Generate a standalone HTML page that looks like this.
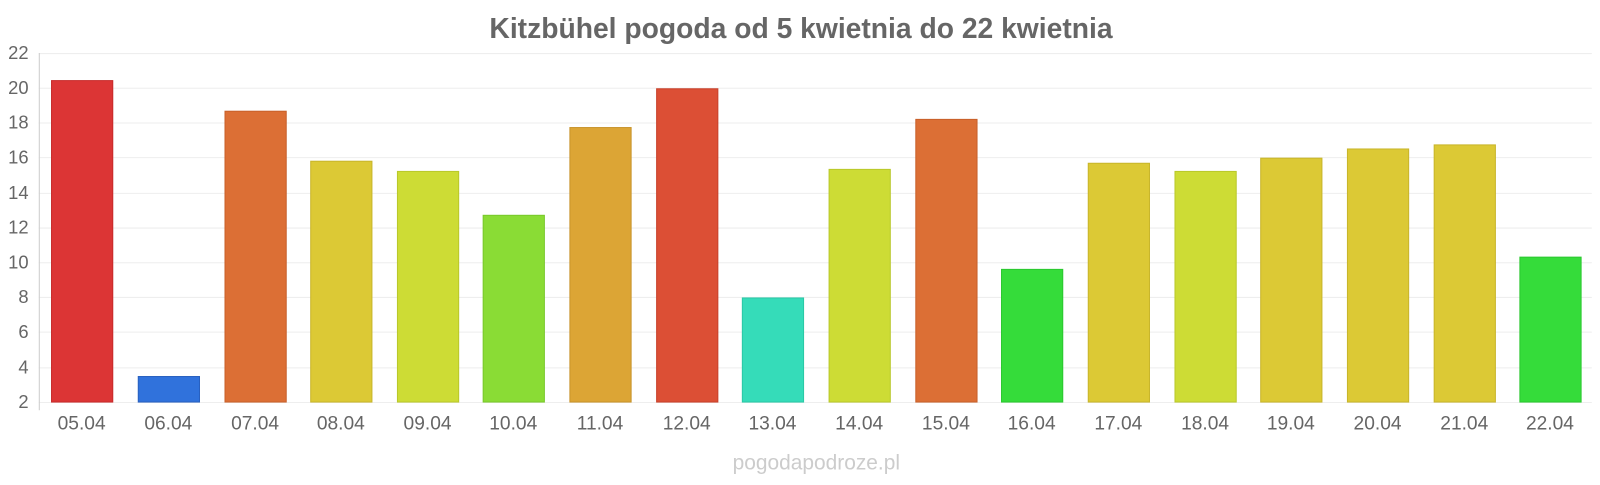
<!DOCTYPE html>
<html><head><meta charset="utf-8"><style>
body{margin:0;background:#fff;}
svg text{font-family:"Liberation Sans",sans-serif;}
</style></head><body>
<svg width="1600" height="480" xmlns="http://www.w3.org/2000/svg">
<g transform="scale(1.0204)">
<text x="785" y="37" text-anchor="middle" font-size="27.7" font-weight="bold" fill="#666">Kitzbühel pogoda od 5 kwietnia do 22 kwietnia</text>
<g stroke="#eee" stroke-width="1">
<line x1="38" x2="1560" y1="52.5" y2="52.5"/><line x1="38" x2="1560" y1="86.5" y2="86.5"/><line x1="38" x2="1560" y1="120.5" y2="120.5"/><line x1="38" x2="1560" y1="154.5" y2="154.5"/><line x1="38" x2="1560" y1="189.5" y2="189.5"/><line x1="38" x2="1560" y1="223.5" y2="223.5"/><line x1="38" x2="1560" y1="257.5" y2="257.5"/><line x1="38" x2="1560" y1="291.5" y2="291.5"/><line x1="38" x2="1560" y1="325.5" y2="325.5"/><line x1="38" x2="1560" y1="360.5" y2="360.5"/><line x1="38" x2="1560" y1="394.5" y2="394.5"/>
</g>
<line x1="38.5" x2="38.5" y1="52" y2="402" stroke="#ccc"/>
<g font-size="18" fill="#666" text-anchor="end">
<text x="28" y="58">22</text><text x="28" y="92">20</text><text x="28" y="126">18</text><text x="28" y="160">16</text><text x="28" y="195">14</text><text x="28" y="229">12</text><text x="28" y="263">10</text><text x="28" y="297">8</text><text x="28" y="331">6</text><text x="28" y="366">4</text><text x="28" y="400">2</text>
</g>
<g stroke-width="1">
<rect x="50.5" y="79" width="60" height="315" fill="#dc3535" stroke="#c82a2a"/>
<rect x="135.5" y="369" width="60" height="25" fill="#3072dc" stroke="#2860c0"/>
<rect x="220.5" y="109" width="60" height="285" fill="#dc6f35" stroke="#c8602a"/>
<rect x="304.5" y="158" width="60" height="236" fill="#dcc935" stroke="#c8b52a"/>
<rect x="389.5" y="168" width="60" height="226" fill="#cddc35" stroke="#b9c82a"/>
<rect x="473.5" y="211" width="60" height="183" fill="#8adc35" stroke="#78c82a"/>
<rect x="558.5" y="125" width="60" height="269" fill="#dca535" stroke="#c8932a"/>
<rect x="643.5" y="87" width="60" height="307" fill="#dc4f35" stroke="#c8402a"/>
<rect x="727.5" y="292" width="60" height="102" fill="#35dcb9" stroke="#2ac8a6"/>
<rect x="812.5" y="166" width="60" height="228" fill="#cddc35" stroke="#b9c82a"/>
<rect x="897.5" y="117" width="60" height="277" fill="#dc6f35" stroke="#c8602a"/>
<rect x="981.5" y="264" width="60" height="130" fill="#35dc3a" stroke="#2ac82f"/>
<rect x="1066.5" y="160" width="60" height="234" fill="#dcc935" stroke="#c8b52a"/>
<rect x="1151.5" y="168" width="60" height="226" fill="#cddc35" stroke="#b9c82a"/>
<rect x="1235.5" y="155" width="60" height="239" fill="#dcc935" stroke="#c8b52a"/>
<rect x="1320.5" y="146" width="60" height="248" fill="#dcc935" stroke="#c8b52a"/>
<rect x="1405.5" y="142" width="60" height="252" fill="#dcc935" stroke="#c8b52a"/>
<rect x="1489.5" y="252" width="60" height="142" fill="#35dc3a" stroke="#2ac82f"/>
</g>
<g font-size="18.8" fill="#666" text-anchor="middle">
<text x="80" y="421">05.04</text><text x="165" y="421">06.04</text><text x="250" y="421">07.04</text><text x="334" y="421">08.04</text><text x="419" y="421">09.04</text><text x="503" y="421">10.04</text><text x="588" y="421">11.04</text><text x="673" y="421">12.04</text><text x="757" y="421">13.04</text><text x="842" y="421">14.04</text><text x="927" y="421">15.04</text><text x="1011" y="421">16.04</text><text x="1096" y="421">17.04</text><text x="1181" y="421">18.04</text><text x="1265" y="421">19.04</text><text x="1350" y="421">20.04</text><text x="1435" y="421">21.04</text><text x="1519" y="421">22.04</text>
</g>
<text x="800" y="460" text-anchor="middle" font-size="20.5" fill="#ccc">pogodapodroze.pl</text>
</g>
</svg>
</body></html>
